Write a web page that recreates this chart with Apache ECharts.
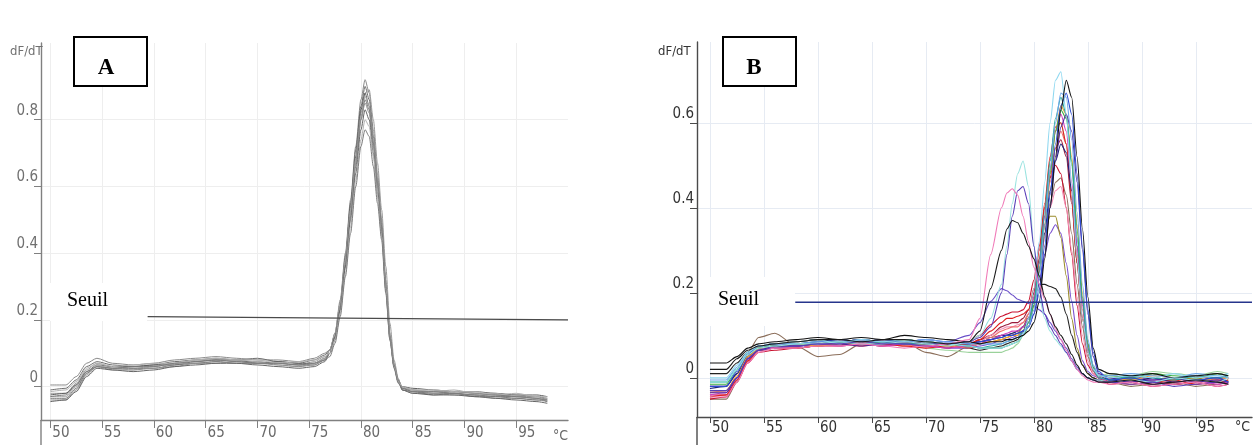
<!DOCTYPE html>
<html>
<head>
<meta charset="utf-8">
<script src="https://cdn.jsdelivr.net/npm/echarts@6/dist/echarts.min.js"></script>
<style>
  html, body { margin: 0; padding: 0; background: #ffffff; }
  #chart { width: 1253px; height: 445px; }
</style>
</head>
<body>
<div id="chart"></div>
<script>
// ---- Melt-curve derivative data (dF/dT vs temperature, °C) ----

// Axis tick values
const X_TICKS = [50, 55, 60, 65, 70, 75, 80, 85, 90, 95];
const Y_TICKS_A = [0, 0.2, 0.4, 0.6, 0.8];
const Y_TICKS_B = [0, 0.2, 0.4, 0.6];

// Threshold ("Seuil") levels
const SEUIL_A = [[59.4, 0.21], [100, 0.2]];
const SEUIL_B = [[57.9, 0.178], [100.2, 0.178]];

// Panel A: sampled temperatures
const TEMP_A = [50, 51.5, 52.5, 53.5, 54.5, 56, 58, 60, 62, 64, 66, 68, 70, 72, 74, 75.5, 76.5,
  77, 77.5, 78, 78.5, 79, 79.5, 80, 80.4, 80.8, 81.2, 81.6, 82, 82.4, 82.8, 83.2, 83.6,
  84, 85, 87, 89, 91, 93, 95, 97, 98];

// Panel A: one array per sample
const a01 = [0.005,0.005,0.03,0.07,0.085,0.07,0.065,0.07,0.08,0.085,0.09,0.085,0.08,0.08,0.075,0.085,0.10,
  0.11,0.16,0.26,0.40,0.56,0.72,0.86,0.92,0.88,0.77,0.64,0.50,0.32,0.16,0.07,0.02,
  0.0,-0.01,-0.015,-0.015,-0.02,-0.025,-0.03,-0.03,-0.035];
const a02 = [-0.01,-0.005,0.02,0.06,0.075,0.065,0.06,0.065,0.075,0.08,0.085,0.08,0.085,0.075,0.07,0.08,0.095,
  0.11,0.16,0.25,0.39,0.55,0.71,0.84,0.90,0.86,0.75,0.62,0.49,0.31,0.15,0.065,0.02,
  -0.005,-0.015,-0.02,-0.02,-0.025,-0.03,-0.03,-0.035,-0.04];
const a03 = [-0.02,-0.02,0.01,0.05,0.07,0.06,0.055,0.06,0.07,0.08,0.08,0.075,0.075,0.07,0.065,0.075,0.09,
  0.10,0.14,0.23,0.36,0.52,0.68,0.82,0.88,0.89,0.80,0.67,0.53,0.36,0.19,0.08,0.025,
  -0.01,-0.02,-0.02,-0.025,-0.025,-0.035,-0.035,-0.04,-0.045];
const a04 = [-0.025,-0.02,0.005,0.045,0.065,0.06,0.06,0.065,0.065,0.075,0.08,0.08,0.07,0.075,0.07,0.07,0.085,
  0.10,0.15,0.24,0.38,0.54,0.69,0.83,0.88,0.84,0.73,0.61,0.48,0.30,0.15,0.06,0.015,
  0.0,-0.005,-0.01,-0.015,-0.015,-0.02,-0.025,-0.025,-0.03];
const a05 = [-0.03,-0.03,0.0,0.04,0.065,0.055,0.05,0.06,0.07,0.07,0.075,0.08,0.075,0.065,0.06,0.07,0.085,
  0.11,0.16,0.25,0.38,0.53,0.68,0.81,0.87,0.84,0.74,0.62,0.49,0.31,0.16,0.07,0.02,
  -0.005,-0.01,-0.015,-0.01,-0.02,-0.02,-0.03,-0.035,-0.035];
const a06 = [-0.035,-0.035,-0.005,0.04,0.06,0.055,0.055,0.055,0.065,0.07,0.075,0.07,0.07,0.07,0.065,0.065,0.08,
  0.10,0.14,0.23,0.36,0.51,0.66,0.80,0.86,0.83,0.73,0.61,0.48,0.30,0.15,0.065,0.02,
  -0.01,-0.015,-0.025,-0.02,-0.03,-0.03,-0.035,-0.04,-0.04];
const a07 = [-0.04,-0.04,-0.01,0.035,0.06,0.05,0.05,0.055,0.06,0.07,0.07,0.075,0.07,0.065,0.06,0.065,0.08,
  0.11,0.15,0.24,0.37,0.52,0.67,0.80,0.85,0.82,0.72,0.60,0.47,0.30,0.15,0.06,0.015,
  -0.005,-0.01,-0.02,-0.015,-0.02,-0.025,-0.025,-0.03,-0.04];
const a08 = [-0.045,-0.04,-0.015,0.03,0.055,0.05,0.045,0.05,0.06,0.065,0.07,0.07,0.065,0.06,0.055,0.06,0.075,
  0.10,0.15,0.23,0.36,0.50,0.64,0.77,0.83,0.80,0.70,0.58,0.46,0.29,0.14,0.06,0.015,
  -0.01,-0.02,-0.025,-0.025,-0.03,-0.035,-0.04,-0.045,-0.05];
const a09 = [-0.015,-0.01,0.015,0.055,0.07,0.06,0.065,0.07,0.07,0.08,0.085,0.08,0.08,0.07,0.075,0.08,0.09,
  0.10,0.14,0.22,0.34,0.48,0.62,0.74,0.80,0.78,0.69,0.57,0.45,0.29,0.14,0.06,0.015,
  0.0,-0.01,-0.01,-0.015,-0.015,-0.025,-0.02,-0.03,-0.03];
const a10 = [-0.03,-0.025,0.005,0.045,0.06,0.055,0.06,0.06,0.07,0.075,0.08,0.075,0.07,0.07,0.065,0.07,0.08,
  0.09,0.13,0.21,0.33,0.46,0.60,0.72,0.77,0.75,0.66,0.55,0.44,0.28,0.14,0.055,0.01,
  -0.005,-0.015,-0.015,-0.02,-0.025,-0.025,-0.03,-0.035,-0.045];

const CURVES_A = [a01, a02, a03, a04, a05, a06, a07, a08, a09, a10];
const GREYS_A = ['#8a8a8a', '#6f6f6f', '#9a9a9a', '#5f5f5f', '#a8a8a8', '#7a7a7a', '#8f8f8f', '#666666', '#b2b2b2', '#7d7d7d'];

// Panel B: sampled temperatures
const TEMP_B = [50, 51.5, 52.5, 53.5, 54.5, 56, 58, 60, 62, 64, 66, 68, 70, 72, 74, 75, 76,
  77, 77.5, 78, 78.5, 79, 79.5, 80, 80.5, 81, 81.5, 82, 82.5, 83, 83.5, 84, 84.5, 85, 85.5, 86,
  87, 89, 91, 93, 95, 97, 98];

// Panel B: one array per sample
const b01 = [0.035,0.035,0.05,0.07,0.08,0.085,0.09,0.095,0.09,0.095,0.09,0.1,0.095,0.09,0.085,0.08,0.085,
  0.085,0.09,0.09,0.095,0.10,0.11,0.13,0.18,0.28,0.40,0.52,0.63,0.70,0.66,0.52,0.35,0.19,0.07,0.02,
  0.01,0.005,0.01,0.0,0.005,0.01,0.005];
const b02 = [0.0,0.0,0.03,0.06,0.075,0.08,0.085,0.09,0.08,0.09,0.085,0.09,0.085,0.08,0.075,0.07,0.07,
  0.07,0.075,0.08,0.085,0.10,0.14,0.21,0.32,0.46,0.60,0.70,0.72,0.62,0.45,0.28,0.14,0.06,0.02,0.005,
  0.0,0.005,0.0,0.01,0.0,0.005,0.01];
const b03 = [-0.02,-0.02,0.015,0.055,0.075,0.08,0.08,0.085,0.09,0.085,0.09,0.085,0.09,0.085,0.08,0.085,0.09,
  0.095,0.10,0.10,0.105,0.11,0.12,0.15,0.21,0.31,0.43,0.55,0.64,0.67,0.62,0.48,0.31,0.16,0.06,0.015,
  -0.005,0.0,-0.01,0.0,-0.005,0.0,-0.01];
const b04 = [-0.01,-0.01,0.02,0.06,0.075,0.075,0.08,0.08,0.085,0.08,0.085,0.08,0.08,0.08,0.075,0.07,0.075,
  0.08,0.085,0.09,0.095,0.11,0.13,0.18,0.27,0.39,0.51,0.61,0.66,0.62,0.50,0.33,0.18,0.07,0.02,0.0,
  -0.005,0.005,0.0,-0.005,0.005,0.0,0.005];
const b05 = [-0.03,-0.03,0.005,0.05,0.07,0.075,0.08,0.075,0.08,0.085,0.08,0.085,0.08,0.075,0.08,0.08,0.085,
  0.09,0.095,0.10,0.10,0.11,0.13,0.17,0.25,0.36,0.48,0.58,0.64,0.62,0.52,0.36,0.20,0.08,0.025,0.005,
  0.0,-0.005,0.005,0.0,-0.01,0.0,0.0];
const b06 = [-0.04,-0.035,0.0,0.045,0.07,0.07,0.075,0.08,0.075,0.08,0.075,0.08,0.075,0.07,0.075,0.08,0.09,
  0.10,0.105,0.11,0.11,0.12,0.14,0.19,0.27,0.38,0.49,0.58,0.62,0.58,0.46,0.31,0.17,0.07,0.02,0.0,
  -0.01,-0.005,-0.015,-0.01,-0.005,-0.015,-0.01];
const b07 = [-0.045,-0.04,-0.005,0.04,0.065,0.07,0.07,0.075,0.08,0.075,0.08,0.075,0.07,0.075,0.08,0.09,0.11,
  0.13,0.14,0.14,0.145,0.15,0.16,0.21,0.30,0.41,0.52,0.59,0.60,0.55,0.42,0.27,0.14,0.06,0.02,0.0,
  -0.01,-0.015,-0.01,-0.005,-0.015,-0.01,-0.005];
const b08 = [-0.035,-0.03,0.0,0.045,0.065,0.07,0.075,0.08,0.08,0.085,0.08,0.075,0.08,0.075,0.07,0.08,0.095,
  0.11,0.115,0.12,0.12,0.13,0.15,0.19,0.26,0.36,0.46,0.54,0.58,0.55,0.44,0.29,0.16,0.07,0.02,0.005,
  0.0,-0.01,0.0,-0.005,0.005,-0.005,0.0];
const b09 = [-0.015,-0.015,0.02,0.055,0.07,0.075,0.08,0.085,0.085,0.08,0.085,0.09,0.085,0.08,0.075,0.07,0.07,
  0.07,0.075,0.08,0.085,0.10,0.12,0.17,0.25,0.36,0.48,0.58,0.63,0.61,0.51,0.35,0.19,0.08,0.025,0.005,
  0.005,0.0,0.01,0.005,0.0,0.01,0.005];
const b10 = [-0.025,-0.02,0.01,0.05,0.07,0.075,0.075,0.08,0.085,0.09,0.085,0.08,0.085,0.08,0.08,0.085,0.09,
  0.10,0.10,0.105,0.11,0.12,0.14,0.18,0.25,0.34,0.44,0.51,0.55,0.53,0.44,0.31,0.18,0.08,0.025,0.005,
  -0.005,-0.01,0.0,-0.01,-0.005,0.0,-0.01];
const b11 = [-0.05,-0.045,-0.01,0.035,0.06,0.065,0.07,0.075,0.075,0.08,0.075,0.08,0.075,0.08,0.085,0.10,0.125,
  0.145,0.15,0.155,0.155,0.16,0.18,0.23,0.31,0.40,0.47,0.50,0.48,0.40,0.29,0.17,0.08,0.03,0.01,0.0,
  -0.015,-0.01,-0.02,-0.015,-0.01,-0.02,-0.015];
const b12 = [-0.03,-0.03,0.0,0.045,0.065,0.07,0.075,0.075,0.08,0.08,0.075,0.08,0.075,0.07,0.07,0.075,0.08,
  0.09,0.09,0.095,0.10,0.11,0.13,0.17,0.23,0.29,0.34,0.36,0.34,0.27,0.18,0.10,0.04,0.015,0.005,0.0,
  -0.005,0.0,-0.005,0.0,-0.01,-0.005,0.0];
const b13 = [-0.02,-0.02,0.01,0.05,0.07,0.075,0.08,0.08,0.08,0.085,0.08,0.08,0.08,0.075,0.075,0.08,0.085,
  0.09,0.095,0.10,0.105,0.12,0.15,0.20,0.27,0.34,0.38,0.38,0.33,0.24,0.14,0.07,0.03,0.01,0.0,-0.005,
  -0.005,0.0,-0.01,-0.005,0.0,-0.01,-0.005];
const b14 = [0.01,0.01,0.035,0.06,0.075,0.08,0.085,0.09,0.085,0.09,0.085,0.085,0.08,0.075,0.07,0.065,0.07,
  0.075,0.08,0.085,0.09,0.11,0.14,0.19,0.22,0.22,0.215,0.21,0.19,0.15,0.10,0.06,0.03,0.01,0.0,-0.005,
  -0.01,-0.005,-0.01,-0.015,-0.01,-0.005,-0.01];
const b15 = [-0.035,-0.035,0.0,0.045,0.065,0.075,0.075,0.08,0.08,0.075,0.08,0.085,0.08,0.08,0.08,0.085,0.09,
  0.095,0.10,0.10,0.105,0.11,0.12,0.15,0.20,0.29,0.40,0.51,0.59,0.62,0.58,0.46,0.30,0.15,0.05,0.01,
  0.0,-0.01,-0.005,0.0,-0.01,-0.005,-0.01];
const b16 = [-0.04,-0.04,-0.005,0.04,0.065,0.07,0.07,0.075,0.08,0.075,0.08,0.075,0.07,0.075,0.075,0.085,0.10,
  0.115,0.12,0.12,0.125,0.13,0.15,0.19,0.25,0.33,0.40,0.44,0.45,0.40,0.30,0.19,0.10,0.04,0.01,0.0,
  -0.005,-0.01,-0.005,-0.01,-0.015,-0.005,-0.01];
const b17 = [-0.01,-0.01,0.02,0.055,0.07,0.075,0.08,0.08,0.085,0.08,0.08,0.085,0.08,0.075,0.085,0.10,0.14,
  0.22,0.31,0.41,0.48,0.51,0.45,0.31,0.19,0.14,0.11,0.09,0.075,0.06,0.04,0.02,0.01,0.0,-0.005,-0.005,
  -0.01,-0.005,-0.01,0.0,-0.005,-0.01,0.0];
const b18 = [-0.045,-0.045,-0.01,0.035,0.06,0.07,0.07,0.075,0.075,0.08,0.075,0.07,0.075,0.08,0.09,0.14,0.29,
  0.40,0.435,0.445,0.43,0.38,0.32,0.26,0.22,0.185,0.15,0.115,0.09,0.065,0.04,0.02,0.005,-0.005,-0.01,-0.01,
  -0.015,-0.01,-0.02,-0.015,-0.01,-0.02,-0.015];
const b19 = [-0.03,-0.03,0.0,0.045,0.065,0.07,0.075,0.08,0.08,0.085,0.08,0.08,0.075,0.08,0.085,0.095,0.12,
  0.20,0.29,0.38,0.44,0.45,0.41,0.31,0.21,0.15,0.12,0.10,0.08,0.06,0.04,0.02,0.01,0.0,-0.005,-0.01,
  -0.01,-0.015,-0.01,-0.02,-0.015,-0.01,-0.015];
const b20 = [0.02,0.02,0.045,0.065,0.075,0.08,0.085,0.09,0.09,0.085,0.09,0.09,0.085,0.08,0.085,0.11,0.21,
  0.30,0.35,0.37,0.365,0.34,0.31,0.28,0.24,0.19,0.15,0.12,0.10,0.08,0.055,0.03,0.01,0.0,-0.005,-0.01,
  -0.01,-0.005,-0.015,-0.01,-0.005,-0.01,-0.015];
const b21 = [-0.02,-0.02,0.01,0.05,0.07,0.075,0.075,0.08,0.085,0.08,0.085,0.08,0.08,0.085,0.10,0.13,0.18,
  0.21,0.205,0.195,0.185,0.18,0.175,0.17,0.16,0.15,0.13,0.11,0.09,0.07,0.045,0.025,0.01,0.0,-0.005,-0.005,
  0.0,0.005,-0.005,0.0,0.005,-0.005,0.0];
const b22 = [-0.05,-0.05,-0.01,0.06,0.095,0.105,0.075,0.05,0.055,0.08,0.09,0.085,0.06,0.05,0.075,0.09,0.095,
  0.10,0.10,0.105,0.11,0.12,0.14,0.18,0.25,0.33,0.41,0.46,0.47,0.43,0.34,0.22,0.12,0.05,0.015,0.0,
  -0.01,-0.02,-0.015,-0.01,-0.02,-0.015,-0.01];
const b23 = [-0.005,-0.005,0.025,0.06,0.075,0.08,0.08,0.085,0.085,0.09,0.085,0.085,0.09,0.085,0.08,0.08,0.08,
  0.08,0.085,0.09,0.095,0.105,0.12,0.16,0.24,0.36,0.49,0.60,0.67,0.66,0.56,0.39,0.22,0.09,0.03,0.005,
  0.005,0.01,0.005,0.0,0.01,0.005,0.0];
const b24 = [-0.04,-0.04,-0.005,0.04,0.065,0.07,0.07,0.075,0.08,0.08,0.075,0.08,0.075,0.07,0.08,0.09,0.10,
  0.12,0.125,0.13,0.13,0.14,0.16,0.20,0.28,0.38,0.47,0.54,0.56,0.52,0.41,0.27,0.14,0.06,0.02,0.0,
  -0.01,-0.005,-0.01,-0.015,-0.01,-0.005,-0.015];
const b25 = [-0.01,-0.01,0.02,0.055,0.07,0.075,0.08,0.08,0.075,0.08,0.08,0.075,0.07,0.065,0.06,0.06,0.06,
  0.06,0.065,0.07,0.08,0.10,0.13,0.19,0.28,0.40,0.51,0.58,0.60,0.55,0.42,0.27,0.14,0.06,0.02,0.005,
  0.01,0.005,0.015,0.01,0.005,0.015,0.01];

const CURVES_B = [b22, b25, b12, b13, b14, b21, b11, b24, b16, b08, b07, b10, b06, b05, b09, b04,
  b15, b03, b23, b02, b01, b17, b19, b18, b20];
const COLORS_B = ['#8b6e5a', '#9ad29a', '#7a4fd0', '#9a8a2a', '#222222', '#6a4fc8', '#c8102e', '#9b1c3c',
  '#f28fb5', '#f07070', '#e02020', '#1b237a', '#d23fc0', '#f0a030', '#3cb043', '#2aa7a0',
  '#4b2a9a', '#2c4bd1', '#6fa8ea', '#8fd8f0', '#111111', '#9be3e0', '#5a3fb8', '#f07ab8', '#1a1a1a'];

// ---- Chart ----
const NARROW = '"Liberation Sans Narrow", "DejaVu Sans Condensed", "Liberation Sans", sans-serif';
const SERIF = '"Liberation Serif", "Times New Roman", serif';

function pairs(temps, values) {
  return temps.map((t, i) => [t, values[i]]);
}

function curveSeries(temps, values, idx, color, width) {
  return {
    type: 'line',
    xAxisIndex: idx, yAxisIndex: idx,
    data: pairs(temps, values),
    showSymbol: false,
    smooth: 0.25,
    smoothMonotone: 'x',
    lineStyle: { color: color, width: width },
    silent: true,
    z: 2
  };
}

const series = [];
CURVES_A.forEach((c, i) => series.push(curveSeries(TEMP_A, c, 0, GREYS_A[i], 1)));
CURVES_B.forEach((c, i) => series.push(curveSeries(TEMP_B, c, 1, COLORS_B[i], 1.1)));
series.push({
  type: 'line', xAxisIndex: 0, yAxisIndex: 0, data: SEUIL_A, showSymbol: false,
  lineStyle: { color: '#4a4a4a', width: 1.3 }, silent: true, z: 5
});
series.push({
  type: 'line', xAxisIndex: 1, yAxisIndex: 1, data: SEUIL_B, showSymbol: false,
  lineStyle: { color: '#26358c', width: 1.6 }, silent: true, z: 5
});

function xAxisDef(idx, min, max, color, labelColor, tickLen, margin, gridColor) {
  return {
    gridIndex: idx, type: 'value', min: min, max: max,
    axisLine: { show: true, onZero: false, lineStyle: { color: color, width: 1.4 } },
    axisTick: { show: true, customValues: X_TICKS, length: tickLen, lineStyle: { color: color, width: 1 } },
    axisLabel: {
      show: true, customValues: X_TICKS, align: 'left', padding: [0, 0, 0, 2], margin: margin,
      color: labelColor, fontFamily: NARROW, fontSize: 15
    },
    splitLine: { show: true, lineStyle: { color: gridColor, width: 1 } }
  };
}

function yAxisDef(idx, min, max, ticks, color, labelColor, gridColor) {
  return {
    gridIndex: idx, type: 'value', min: min, max: max,
    axisLine: { show: true, onZero: false, lineStyle: { color: color, width: 1.4 } },
    axisTick: { show: true, customValues: ticks, length: 7, lineStyle: { color: color, width: 1 } },
    axisLabel: {
      show: true, customValues: ticks, margin: 3, verticalAlign: 'bottom', lineHeight: 18,
      color: labelColor, fontFamily: NARROW, fontSize: 15,
      formatter: v => (v === 0 ? '0' : v.toFixed(1))
    },
    splitLine: { show: true, lineStyle: { color: gridColor, width: 1 } }
  };
}

const option = {
  backgroundColor: '#ffffff',
  animation: false,
  grid: [
    { left: 41, top: 43, width: 527, height: 377 },
    { left: 697, top: 42, width: 555, height: 375 }
  ],
  xAxis: [
    xAxisDef(0, 49.1, 100, '#808080', '#6a6a6a', 8, 6, '#eeeeee'),
    xAxisDef(1, 48.8, 100.2, '#4a4a4a', '#333333', 6, 4, '#e6ebf3')
  ],
  yAxis: [
    yAxisDef(0, -0.1, 1.03, Y_TICKS_A, '#808080', '#707070', '#eeeeee'),
    yAxisDef(1, -0.092, 0.79, Y_TICKS_B, '#4a4a4a', '#333333', '#e6ebf3')
  ],
  series: series,
  graphic: [
    // axis stubs below the temperature axes
    { type: 'line', z: 50, shape: { x1: 41, y1: 420, x2: 41, y2: 445 }, style: { stroke: '#808080', lineWidth: 1.4 } },
    { type: 'line', z: 50, shape: { x1: 697, y1: 417, x2: 697, y2: 445 }, style: { stroke: '#4a4a4a', lineWidth: 1.4 } },
    // panel letters
    { type: 'rect', z: 50, shape: { x: 74, y: 37, width: 73, height: 49 }, style: { fill: '#ffffff', stroke: '#000000', lineWidth: 2 } },
    { type: 'text', z: 51, style: { x: 106, y: 68, text: 'A', fill: '#000000', font: 'bold 23px ' + SERIF, textAlign: 'center', textVerticalAlign: 'middle' } },
    { type: 'rect', z: 50, shape: { x: 723, y: 37, width: 73, height: 49 }, style: { fill: '#ffffff', stroke: '#000000', lineWidth: 2 } },
    { type: 'text', z: 51, style: { x: 754, y: 68, text: 'B', fill: '#000000', font: 'bold 23px ' + SERIF, textAlign: 'center', textVerticalAlign: 'middle' } },
    // threshold labels
    { type: 'rect', z: 50, shape: { x: 50, y: 283, width: 97, height: 38 }, style: { fill: '#ffffff' } },
    { type: 'text', z: 51, style: { x: 67, y: 301, text: 'Seuil', fill: '#000000', font: '20px ' + SERIF, textAlign: 'left', textVerticalAlign: 'middle' } },
    { type: 'rect', z: 50, shape: { x: 699, y: 277, width: 96, height: 49 }, style: { fill: '#ffffff' } },
    { type: 'text', z: 51, style: { x: 718, y: 300, text: 'Seuil', fill: '#000000', font: '20px ' + SERIF, textAlign: 'left', textVerticalAlign: 'middle' } },
    // axis titles
    { type: 'text', z: 51, style: { x: 10, y: 52, text: 'dF/dT', fill: '#707070', font: '13px ' + NARROW, textAlign: 'left', textVerticalAlign: 'middle' } },
    { type: 'text', z: 51, style: { x: 658, y: 52, text: 'dF/dT', fill: '#333333', font: '13px ' + NARROW, textAlign: 'left', textVerticalAlign: 'middle' } },
    { type: 'text', z: 51, style: { x: 553, y: 436, text: '°C', fill: '#6a6a6a', font: '14px ' + NARROW, textAlign: 'left', textVerticalAlign: 'middle' } },
    { type: 'text', z: 51, style: { x: 1235, y: 427, text: '°C', fill: '#333333', font: '14px ' + NARROW, textAlign: 'left', textVerticalAlign: 'middle' } }
  ]
};

const chart = echarts.init(document.getElementById('chart'), null, { renderer: 'canvas' });
chart.setOption(option);
</script>
</body>
</html>
